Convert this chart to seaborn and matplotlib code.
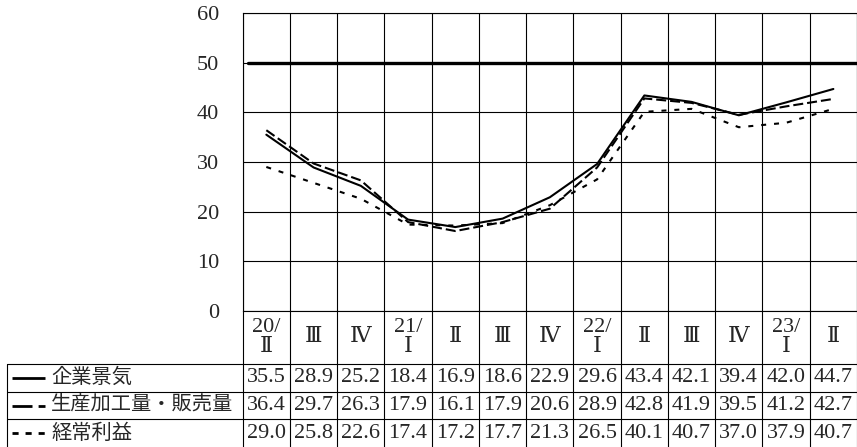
import numpy as np
import pandas as pd
import matplotlib
matplotlib.use("Agg")
import matplotlib.pyplot as plt
import seaborn as sns

# ---------------- data ----------------
categories = ["20/\nⅡ", "Ⅲ", "Ⅳ", "21/\nⅠ", "Ⅱ", "Ⅲ", "Ⅳ", "22/\nⅠ", "Ⅱ", "Ⅲ", "Ⅳ", "23/\nⅠ", "Ⅱ"]
series_names = ["企業景気", "生産加工量・販売量", "経常利益"]
business = [35.5, 28.9, 25.2, 18.4, 16.9, 18.6, 22.9, 29.6, 43.4, 42.1, 39.4, 42.0, 44.7]
production = [36.4, 29.7, 26.3, 17.9, 16.1, 17.9, 20.6, 28.9, 42.8, 41.9, 39.5, 41.2, 42.7]
profit = [29.0, 25.8, 22.6, 17.4, 17.2, 17.7, 21.3, 26.5, 40.1, 40.7, 37.0, 37.9, 40.7]
yticks = [0, 10, 20, 30, 40, 50, 60]
threshold = 50

series_values = [business, production, profit]
n = len(categories)
df = pd.DataFrame({
    "pos": np.tile(np.arange(n), len(series_names)),
    "value": np.concatenate(series_values),
    "series": np.repeat(series_names, n),
})

sns.set_style("white")
plt.rcParams["font.family"] = ["Liberation Serif", "DejaVu Serif", "Noto Sans CJK JP"]
plt.rcParams["axes.unicode_minus"] = False

W, H = 857, 447
fig = plt.figure(figsize=(W / 100, H / 100), dpi=100)
L, R, T, B0 = 242.7, 857.0, 13.0, 311.0
colw = (R - L) / n

ax = fig.add_axes([L / W, 1 - B0 / H, (R - L) / W, (B0 - T) / H])
ax.set_xlim(-0.5, n - 0.5)
ax.set_ylim(yticks[0], yticks[-1])

line_dashes = ["", (4.8, 1.9), (2.4, 3.8)]
sns.lineplot(data=df, x="pos", y="value", style="series", style_order=series_names,
             dashes=line_dashes, color="black", linewidth=1.5, legend=False,
             errorbar=None, ax=ax, zorder=4)
ax.axhline(threshold, xmin=0.008, color="black", lw=2.4, zorder=3)

ax.set_yticks(yticks)
ax.set_yticklabels([str(v) for v in yticks], fontsize=16)
ax.set_xticks(np.arange(n + 1) - 0.5)
ax.set_xticklabels([])
ax.tick_params(axis="x", length=0)
ax.tick_params(axis="y", direction="in", length=4, width=0.8, pad=17, color="black")
ax.grid(True, color="black", lw=0.8)
ax.set_axisbelow(True)
ax.set_xlabel("")
ax.set_ylabel("")
for sp in ax.spines.values():
    sp.set_color("black")
    sp.set_linewidth(0.8)

# ---------------- table overlay ----------------
ov = fig.add_axes([0, 0, 1, 1], zorder=5)
ov.set_xlim(-0.5 - L / colw, n - 0.5)
ov.set_ylim(H, 0)
ov.axis("off")
ov.patch.set_visible(False)


def px2x(p):
    return -0.5 + (p - L) / colw


table_left = px2x(7)
row_lines = [364.0, 391.7, 419.3]
row_centers = [377.8, 405.5, 433.2]
header_center = 337.5

for k in range(n + 1):
    ov.plot([k - 0.5, k - 0.5], [B0, H], color="black", lw=0.8)
ov.plot([table_left, table_left], [row_lines[0], H], color="black", lw=0.8)
for y in row_lines:
    ov.plot([table_left, n - 0.5], [y, y], color="black", lw=0.8)

for i, cat in enumerate(categories):
    ov.text(i, header_center, cat, ha="center", va="center", fontsize=16,
            linespacing=1.1)

sample_styles = ["-", (0, (7.2, 2.2, 2.5, 10)), (0, (2.2, 2.5))]
for r, (name, vals) in enumerate(zip(series_names, series_values)):
    yc = row_centers[r]
    ov.plot([px2x(12), px2x(45)], [yc, yc], color="black", lw=2.0,
            linestyle=sample_styles[r], solid_capstyle="butt", dash_capstyle="butt")
    ov.text(px2x(51), yc, name, ha="left", va="center", fontsize=14.6,
            family=["Noto Sans CJK JP"])
    for i, v in enumerate(vals):
        ov.text(i, yc, f"{v:.1f}", ha="center", va="center", fontsize=16)

fig.savefig("out.png", dpi=100)
